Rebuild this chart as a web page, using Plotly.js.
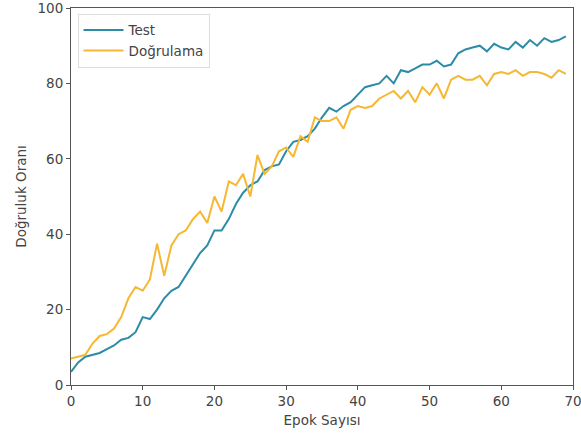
<!DOCTYPE html>
<html>
<head>
<meta charset="utf-8">
<script src="https://cdn.plot.ly/plotly-3.0.1.min.js"></script>
<style>html,body{margin:0;padding:0;background:#fff;}#chart{width:581px;height:437px;}</style>
</head>
<body>
<div id="chart"></div>
<script>
const epochs = Array.from({length: 70}, (_, i) => i);
const testValues = [3.5, 6, 7.5, 8, 8.5, 9.5, 10.5, 12, 12.5, 14,
  18, 17.5, 20, 23, 25, 26, 29, 32, 35, 37,
  41, 41, 44, 48, 51, 53, 54, 57, 58, 58.5,
  62, 64.5, 65, 66, 68, 71, 73.5, 72.5, 74, 75,
  77, 79, 79.5, 80, 82, 80, 83.5, 83, 84, 85,
  85, 86, 84.5, 85, 88, 89, 89.5, 90, 88.5, 90.5,
  89.5, 89, 91, 89.5, 91.5, 90, 92, 91, 91.5, 92.5];
const valValues = [7, 7.5, 8, 11, 13, 13.5, 15, 18, 23, 26,
  25, 28, 37.5, 29, 37, 40, 41, 44, 46, 43,
  50, 46, 54, 53, 56, 50, 61, 56, 58, 62,
  63, 60.5, 66, 64.5, 71, 70, 70, 71, 68, 73,
  74, 73.5, 74, 76, 77, 78, 76, 78, 75, 79,
  77, 80, 76, 81, 82, 81, 81, 82, 79.5, 82.5,
  83, 82.5, 83.5, 82, 83, 83, 82.5, 81.5, 83.5, 82.5];
const seriesNames = ["Test", "Doğrulama"];
const xTicks = [0, 10, 20, 30, 40, 50, 60, 70];
const yTicks = [0, 20, 40, 60, 80, 100];

const traces = [
  {x: epochs, y: testValues, name: seriesNames[0], type: 'scatter', mode: 'lines',
   line: {color: '#2c8ca6', width: 2}},
  {x: epochs, y: valValues, name: seriesNames[1], type: 'scatter', mode: 'lines',
   line: {color: '#f6b733', width: 2}}
];

const axisCommon = {
  showgrid: false, zeroline: false, showline: true, mirror: true,
  linecolor: '#555', linewidth: 1, ticks: 'outside', ticklen: 4, tickcolor: '#555',
  ticklabeloverflow: 'allow',
  tickfont: {size: 13.5, color: '#444'}
};

const layout = {
  width: 581, height: 437,
  margin: {l: 71, r: 8, t: 8, b: 52},
  paper_bgcolor: '#fff', plot_bgcolor: '#fff',
  font: {family: 'DejaVu Sans, sans-serif', size: 13.5, color: '#444'},
  xaxis: Object.assign({}, axisCommon, {
    range: [0, 70], tickvals: xTicks, ticktext: xTicks.map(String),
    title: {text: 'Epok Sayısı', font: {size: 13.5, color: '#444'}, standoff: 7}
  }),
  yaxis: Object.assign({}, axisCommon, {
    range: [0, 100], tickvals: yTicks, ticktext: yTicks.map(String),
    title: {text: 'Doğruluk Oranı', font: {size: 13.5, color: '#444'}, standoff: 7}
  }),
  legend: {x: 0.013, y: 0.985, xanchor: 'left', yanchor: 'top',
    bgcolor: 'rgba(255,255,255,0.9)', bordercolor: '#ddd', borderwidth: 1,
    itemwidth: 40, tracegroupgap: 0,
    font: {size: 13.5, color: '#444'}},
  showlegend: true
};

Plotly.newPlot('chart', traces, layout, {displayModeBar: false, staticPlot: true});
</script>
</body>
</html>
